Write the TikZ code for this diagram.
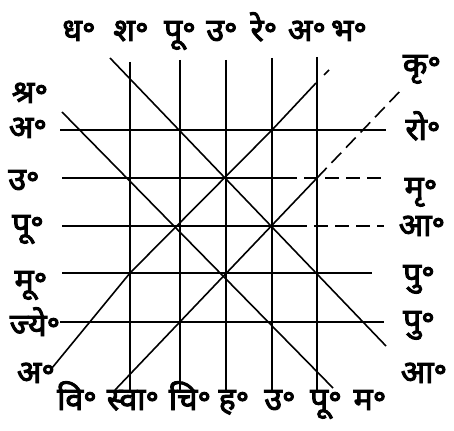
\documentclass[tikz,border=0pt]{standalone}
\usepackage{fontspec}
\newfontfamily\dev[Script=Devanagari,FakeBold=3]{Noto Sans}
\begin{document}
\begin{tikzpicture}[x=1pt,y=-1pt,
  gridline/.style={line width=1.6pt, black},
  brokenline/.style={line width=1.6pt, black, dash pattern=on 14pt off 7pt},
  lab/.style={font=\dev\fontsize{32}{36}\selectfont, inner sep=0pt, anchor=base}]
\useasboundingbox (0,0) rectangle (454,430);
% verticals
\foreach \x/\t in {130/62,180/60,226/60,272/58,317/57}
  \draw[gridline] (\x,\t) -- (\x,390);
% horizontals
\draw[gridline] (60,130) -- (386,130);
\draw[gridline] (62,178) -- (283,178);
\draw[brokenline] (283,178) -- (386,178);
\draw[gridline] (62,226) -- (293,226);
\draw[brokenline] (293,226) -- (384,226);
\draw[gridline] (62,273) -- (372,273);
\draw[gridline] (60,322) -- (384,322);
% diagonals
\draw[gridline] (110,58) -- (386,346);
\draw[gridline] (62,112) -- (333,388);
\draw[gridline] (52,368) -- (130,273) -- (272,130) -- (316,83);
\draw[gridline] (324,75) -- (329,70);
\draw[gridline] (115,390) -- (317,178);
\draw[brokenline] (317,178) -- (403,88);
% top labels
\node[lab] (t1) at (79,41) {ध॰};
\node[lab] (t2) at (131,41) {श॰};
\node[lab] (t3) at (180,41) {पू॰};
\node[lab] (t4) at (222,41) {उ॰};
\node[lab] (t5) at (264,41) {रे॰};
\node[lab] (t6) at (307,41) {अ॰};
\node[lab] (t7) at (349,41) {भ॰};
% right labels
\node[lab] (r1) at (422,75) {कृ॰};
\node[lab] (r2) at (423,140) {रो॰};
\node[lab] (r3) at (421,198) {मृ॰};
\node[lab] (r4) at (422,236) {आ॰};
\node[lab] (r5) at (419,285) {पु॰};
\node[lab] (r6) at (419,331) {पु॰};
\node[lab] (r7) at (424,383) {आ॰};
% left labels
\node[lab] (l1) at (30,103) {श्र॰};
\node[lab] (l2) at (28,138) {अ॰};
\node[lab] (l3) at (24,190) {उ॰};
\node[lab] (l4) at (28,235) {पू॰};
\node[lab] (l5) at (31,291) {मू॰};
\node[lab] (l6) at (35,336) {ज्ये॰};
\node[lab] (l7) at (36,383) {अ॰};
% bottom labels
\node[lab] (b1) at (77,410) {वि॰};
\node[lab] (b2) at (133,410) {स्वा॰};
\node[lab] (b3) at (190,410) {चि॰};
\node[lab] (b4) at (234,410) {ह॰};
\node[lab] (b5) at (280,410) {उ॰};
\node[lab] (b6) at (326,410) {पू॰};
\node[lab] (b7) at (370,410) {म॰};
\end{tikzpicture}
\end{document}
